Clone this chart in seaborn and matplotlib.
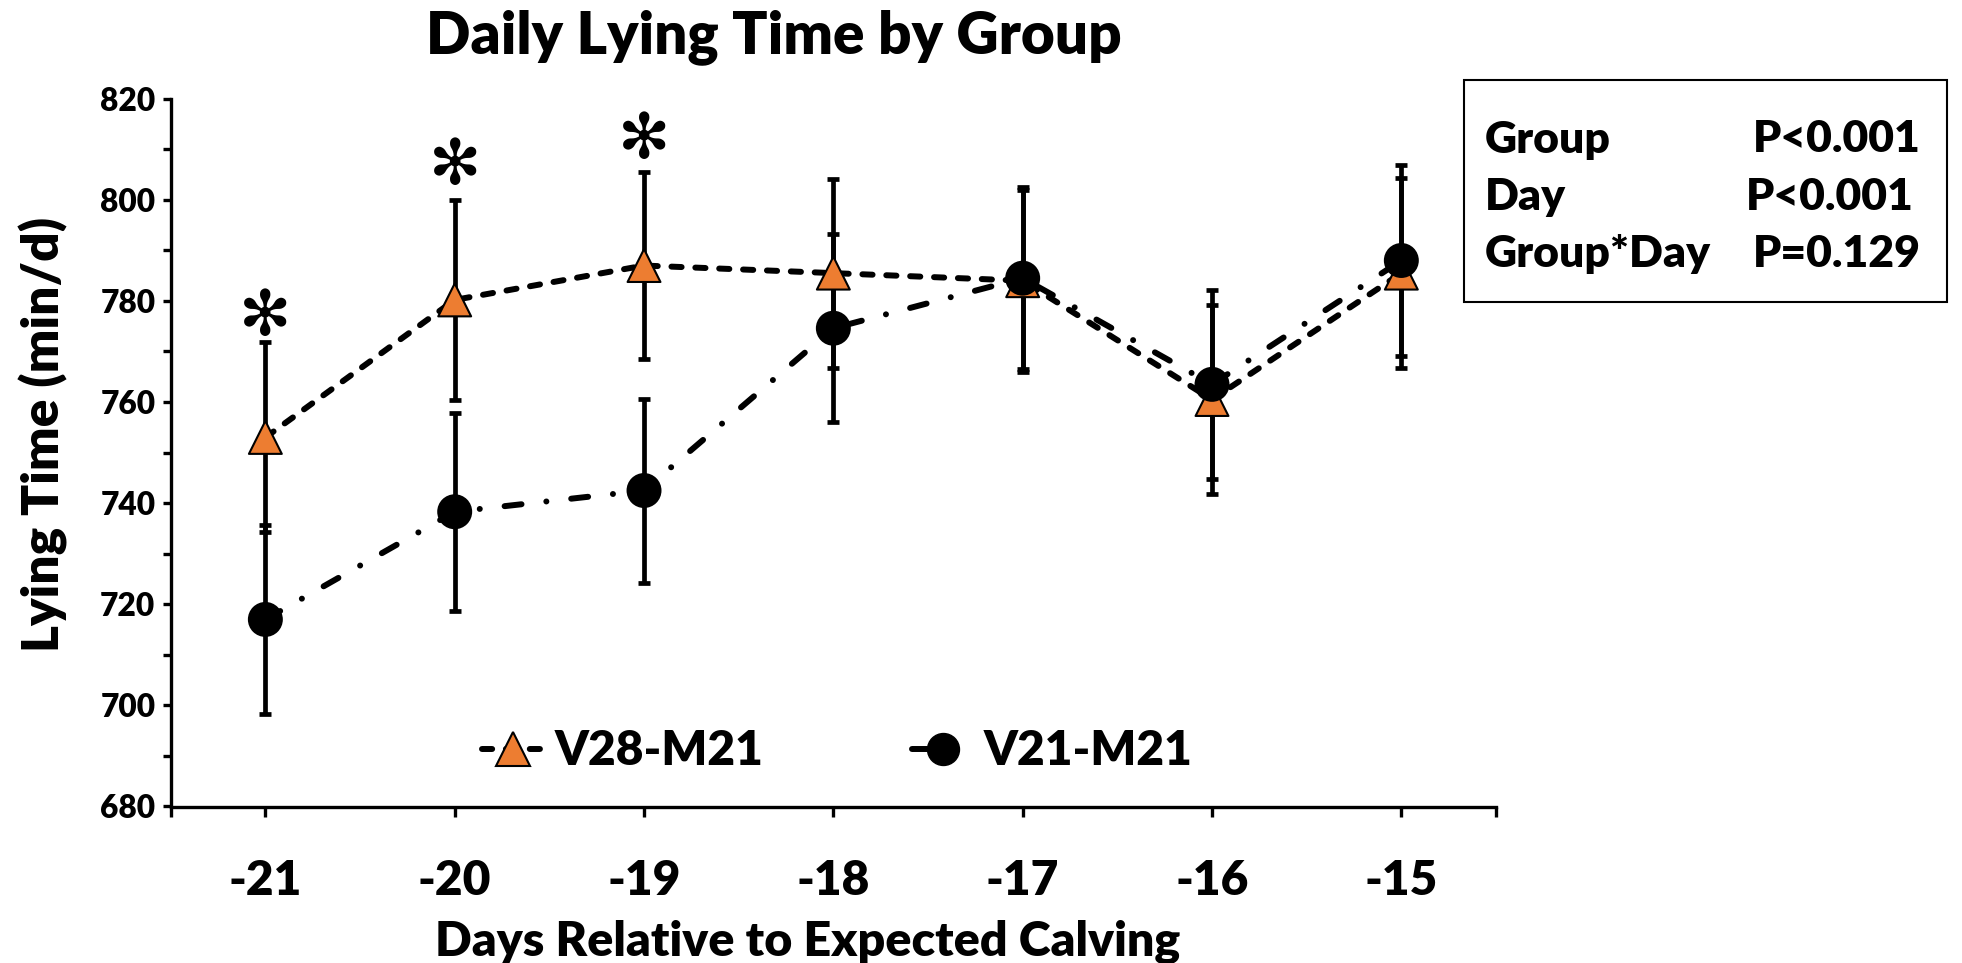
import numpy as np
import pandas as pd
import matplotlib
matplotlib.use("Agg")
import matplotlib.pyplot as plt
import seaborn as sns
from matplotlib.lines import Line2D
from matplotlib.patches import Rectangle

# ---------------- data ----------------
days = [-21, -20, -19, -18, -17, -16, -15]
groups = ["V28-M21", "V21-M21"]
v28_mean = [753.0, 780.2, 787.0, 785.5, 784.0, 760.5, 785.5]
v28_se = [18.8, 19.8, 18.5, 18.7, 18.0, 18.7, 18.8]
v21_mean = [717.0, 738.3, 742.5, 774.6, 784.5, 763.5, 788.0]
v21_se = [18.7, 19.6, 18.2, 18.6, 18.0, 18.7, 18.8]
sig_days = [-21, -20, -19]
sig_y = [776.7, 806.5, 811.6]
y_ticks = [680, 700, 720, 740, 760, 780, 800, 820]
y_minor = [690, 710, 730, 750, 770, 790, 810]
x_labels = ["-21", "-20", "-19", "-18", "-17", "-16", "-15"]
stat_terms = ["Group", "Day", "Group*Day"]
stat_pvals = ["P<0.001", "P<0.001", "P=0.129"]
title = "Daily Lying Time by Group"
xlabel = "Days Relative to Expected Calving"
ylabel = "Lying Time (min/d)"

ORANGE = "#ED7D31"
WT = 800

sns.set_style("ticks")
plt.rcParams["font.family"] = ["Lato", "DejaVu Sans"]
plt.rcParams["font.weight"] = WT
for key in ["text.color", "axes.labelcolor", "xtick.color", "ytick.color",
            "axes.edgecolor"]:
    plt.rcParams[key] = "black"

df = pd.DataFrame({
    "Day": days + days,
    "Lying": v28_mean + v21_mean,
    "Group": [groups[0]] * len(days) + [groups[1]] * len(days),
})

W, H = 1962, 963
fig = plt.figure(figsize=(W / 100, H / 100), dpi=100)
ax_l, ax_r, ax_t, ax_b = 170.7, 1496, 98.7, 806.5
ax = fig.add_axes([ax_l / W, 1 - ax_b / H, (ax_r - ax_l) / W, (ax_b - ax_t) / H])

LW = 4.3
dash28 = (1.7, 2.3)
dash21 = (2.85, 4.18, 0.01, 4.18)

sns.lineplot(data=df, x="Day", y="Lying", hue="Group", style="Group",
             hue_order=groups, style_order=groups,
             palette={groups[0]: "black", groups[1]: "black"},
             dashes={groups[0]: dash28, groups[1]: dash21},
             linewidth=LW, legend=False, ax=ax, zorder=2)
for ln in ax.lines:
    ln.set_dash_capstyle("round")

for m, se in [(v28_mean, v28_se), (v21_mean, v21_se)]:
    ax.errorbar(days, m, yerr=se, fmt="none", ecolor="black",
                elinewidth=3.4, capsize=4.6, capthick=3.4, zorder=3)

sns.scatterplot(data=df, x="Day", y="Lying", hue="Group", style="Group",
                hue_order=groups, style_order=groups,
                markers={groups[0]: "^", groups[1]: "o"},
                palette={groups[0]: ORANGE, groups[1]: "black"},
                s=560, edgecolor="black", linewidth=1.5,
                legend=False, ax=ax, zorder=4)

# significance asterisks
for d, y in zip(sig_days, sig_y):
    ax.text(d, y, "\u273B", ha="center", va="center", color="black",
            fontsize=45, family=["DejaVu Sans"], weight="normal")

ax.set_xlim(-21.5, -14.5)
ax.set_ylim(680, 820)
ax.set_xticks(days)
ax.set_xticklabels(x_labels)
ax.set_xticks([-21.5, -14.5], minor=True)
ax.set_yticks(y_ticks)
ax.set_yticklabels([str(v) for v in y_ticks])
ax.set_yticks(y_minor, minor=True)
ax.set_xlabel("")
ax.set_ylabel("")
sns.despine(ax=ax)
for s in ["left", "bottom"]:
    ax.spines[s].set_linewidth(2.4)
    ax.spines[s].set_color("black")
ax.tick_params(axis="x", which="both", direction="out", length=7, width=2.4,
               labelsize=34.5, pad=31, colors="black")
ax.tick_params(axis="y", which="both", direction="out", length=6, width=2.4,
               labelsize=22.8, pad=5, colors="black")
for lab in ax.get_xticklabels() + ax.get_yticklabels():
    lab.set_fontweight(WT)

fig.text(774 / W, 1 - 53 / H, title, ha="center", va="baseline",
         fontsize=42, weight=WT, color="black")
fig.text(807.5 / W, 1 - 955 / H, xlabel, ha="center", va="baseline",
         fontsize=34.8, weight=WT, color="black")
fig.text(59 / W, 1 - 434 / H, ylabel, ha="center", va="baseline",
         rotation=90, rotation_mode="anchor", fontsize=37, weight=WT,
         color="black")

# legend
h1 = Line2D([], [], color="black", lw=LW, dashes=dash28, dash_capstyle="round",
            marker="^", markersize=24, markerfacecolor=ORANGE,
            markeredgecolor="black", markeredgewidth=1.5)
h2 = Line2D([], [], color="black", lw=LW, dashes=dash21, dash_capstyle="round",
            marker="o", markersize=23, markerfacecolor="black",
            markeredgecolor="black")
leg = ax.legend(handles=[h1, h2], labels=groups, loc="center",
                bbox_to_anchor=(0.503, 0.078), ncol=2, frameon=False,
                prop={"weight": WT, "size": 34.5}, handlelength=1.3,
                handletextpad=0.2, columnspacing=3.1)
for t in leg.get_texts():
    t.set_color("black")

# statistics box
fig.add_artist(Rectangle((1464 / W, 1 - 302 / H), (1947 - 1464) / W,
                         (302 - 80) / H, transform=fig.transFigure,
                         fill=False, lw=1.5, edgecolor="black"))
baselines = [152.5, 210.0, 267.0]
rights = [1921, 1914, 1921]
for term, pv, b, r in zip(stat_terms, stat_pvals, baselines, rights):
    fig.text(1485 / W, 1 - b / H, term, ha="left", va="baseline",
             fontsize=32, weight=WT, color="black")
    fig.text(r / W, 1 - b / H, pv, ha="right", va="baseline",
             fontsize=32, weight=WT, color="black")

fig.savefig("out.png", dpi=100)
